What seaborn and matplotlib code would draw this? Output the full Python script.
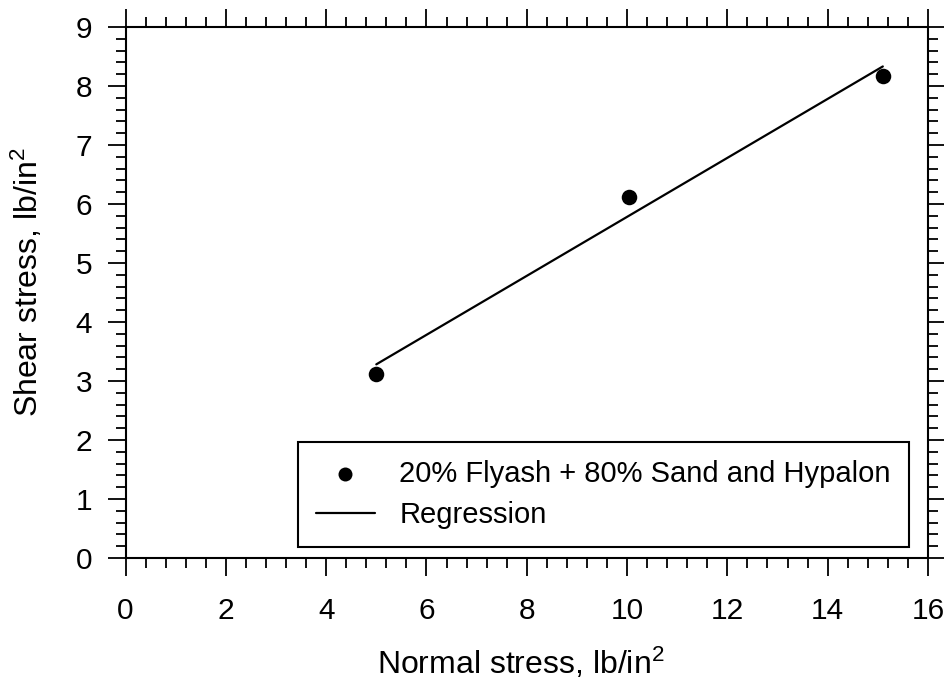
import numpy as np
import pandas as pd
import matplotlib
matplotlib.use("Agg")
import matplotlib.pyplot as plt
from matplotlib.ticker import MultipleLocator
import seaborn as sns

# Direct shear test results
normal_stress = [5.0, 10.03, 15.1]
shear_stress = [3.12, 6.12, 8.17]
series_label = "20% Flyash + 80% Sand and Hypalon"
fit_label = "Regression"

x_ticks = [0, 2, 4, 6, 8, 10, 12, 14, 16]
y_ticks = [0, 1, 2, 3, 4, 5, 6, 7, 8, 9]

sns.set_style("ticks")
plt.rcParams["font.family"] = ["Liberation Sans", "DejaVu Sans"]
plt.rcParams["mathtext.fontset"] = "custom"
plt.rcParams["mathtext.rm"] = "Liberation Sans"
plt.rcParams["mathtext.it"] = "Liberation Sans:italic"
plt.rcParams["mathtext.bf"] = "Liberation Sans:bold"
plt.rcParams["text.color"] = "black"
plt.rcParams["axes.labelcolor"] = "black"
plt.rcParams["xtick.color"] = "black"
plt.rcParams["ytick.color"] = "black"

df = pd.DataFrame({"normal": normal_stress, "shear": shear_stress})
slope, intercept = np.polyfit(df["normal"], df["shear"], 1)
fit = pd.DataFrame({"normal": [df["normal"].min(), df["normal"].max()]})
fit["shear"] = intercept + slope * fit["normal"]

fig = plt.figure(figsize=(9.44, 6.97), dpi=100)
ax = fig.add_axes([0.133, 0.1994, 0.850, 0.7619])

sns.scatterplot(data=df, x="normal", y="shear", ax=ax, color="black",
                s=125, edgecolor="black", linewidth=0, label=series_label,
                zorder=3)
sns.lineplot(data=fit, x="normal", y="shear", ax=ax, color="black",
             linewidth=1.6, label=fit_label, zorder=2)

ax.set_xlim(0, 16)
ax.set_ylim(0, 9)
ax.set_xticks(x_ticks)
ax.set_yticks(y_ticks)
ax.xaxis.set_minor_locator(MultipleLocator(0.4))
ax.yaxis.set_minor_locator(MultipleLocator(0.2))

for side in ["top", "right", "bottom", "left"]:
    ax.spines[side].set_visible(True)
    ax.spines[side].set_linewidth(1.5)
    ax.spines[side].set_color("black")

ax.tick_params(which="both", direction="out", top=True, right=True,
               color="black", width=1.3)
ax.tick_params(which="major", length=13, labelsize=21.5)
ax.tick_params(which="minor", length=7)
ax.tick_params(axis="x", which="major", pad=15)
ax.tick_params(axis="y", which="major", pad=11)

ax.set_xlabel("Normal stress, lb/in$^2$", fontsize=23)
ax.set_ylabel("Shear stress, lb/in$^2$", fontsize=23)
ax.xaxis.set_label_coords(0.492, -0.166)
ax.yaxis.set_label_coords(-0.101, 0.52)

leg = ax.legend(loc="lower right", bbox_to_anchor=(0.9763, 0.0207),
                borderaxespad=0, fontsize=21, frameon=True, fancybox=False,
                framealpha=1, edgecolor="black", handlelength=2.0,
                handletextpad=0.85, labelspacing=0.45, borderpad=0.62,
                markerscale=0.9)
leg.get_frame().set_linewidth(1.5)

fig.savefig("out.png", dpi=100)
